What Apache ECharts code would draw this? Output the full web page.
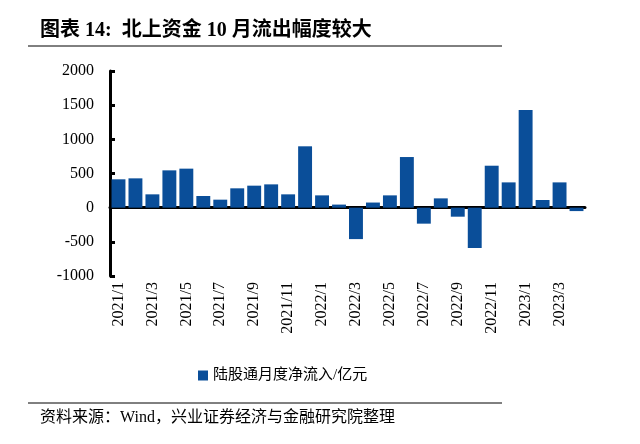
<!DOCTYPE html>
<html>
<head>
<meta charset="utf-8">
<script src="https://cdn.jsdelivr.net/npm/echarts@6/dist/echarts.min.js"></script>
<style>
html,body{margin:0;padding:0;background:#fff;}
#chart{width:640px;height:444px;}
</style>
</head>
<body>
<div id="chart"></div>
<script>
const categories = [
  '2021/1','2021/2','2021/3','2021/4','2021/5','2021/6','2021/7','2021/8','2021/9','2021/10','2021/11','2021/12',
  '2022/1','2022/2','2022/3','2022/4','2022/5','2022/6','2022/7','2022/8','2022/9','2022/10','2022/11','2022/12',
  '2023/1','2023/2','2023/3','2023/4'
];
const netInflow = [
  415, 429, 195, 546, 571, 171, 117, 283, 322, 341, 195, 898,
  180, 45, -460, 75, 180, 741, -234, 136, -132, -590, 614, 370,
  1428, 112, 370, -50
];
const yTicks = { min: -1000, max: 2000, interval: 500 };
const seriesName = '陆股通月度净流入/亿元';
const titleText = '图表 14:  北上资金 10 月流出幅度较大';
const sourceText = '资料来源：Wind，兴业证券经济与金融研究院整理';

const serif = '"Liberation Serif", "Noto Sans CJK SC", serif';
const chart = echarts.init(document.getElementById('chart'));
chart.setOption({
  backgroundColor: '#fff',
  animation: false,
  grid: { left: 110, right: 55, top: 71, bottom: 168 },
  legend: {
    data: [seriesName],
    left: 193, top: 363,
    itemWidth: 10, itemHeight: 10, itemGap: 2,
    icon: 'rect',
    textStyle: { fontFamily: serif, fontSize: 15, color: '#000' }
  },
  xAxis: [
    {
      type: 'category', data: categories, position: 'bottom',
      axisLine: { show: false, onZero: false },
      axisTick: { show: false },
      axisLabel: {
        interval: 1, rotate: 90, margin: 6,
        fontFamily: serif, fontSize: 16, color: '#000'
      }
    },
    {
      type: 'category', data: categories, position: 'bottom',
      axisLine: { show: true, onZero: true, lineStyle: { color: '#000', width: 3 } },
      axisTick: { show: false },
      axisLabel: { show: false }
    }
  ],
  yAxis: {
    type: 'value', min: yTicks.min, max: yTicks.max, interval: yTicks.interval,
    axisLine: { show: true, lineStyle: { color: '#000', width: 3 } },
    axisTick: { show: true, inside: true, length: 5, lineStyle: { color: '#000', width: 3 } },
    splitLine: { show: false },
    axisLabel: { margin: 16, fontFamily: serif, fontSize: 16, color: '#000', formatter: v => String(v) }
  },
  series: [{
    name: seriesName, type: 'bar', data: netInflow,
    xAxisIndex: 0,
    barCategoryGap: '18%',
    itemStyle: { color: '#0a4e99' }
  }],
  graphic: [
    { type: 'text', left: 40, top: 21, style: { text: titleText, font: 'bold 20px "Liberation Serif", "Noto Sans CJK SC", serif', fill: '#000' } },
    { type: 'line', shape: { x1: 28, y1: 46, x2: 502, y2: 46 }, style: { stroke: '#000', lineWidth: 1 } },
    { type: 'line', shape: { x1: 28, y1: 403, x2: 502, y2: 403 }, style: { stroke: '#000', lineWidth: 1 } },
    { type: 'text', left: 40, top: 410, style: { text: sourceText, font: '16px "Liberation Serif", "Noto Sans CJK SC", serif', fill: '#000' } }
  ]
});
</script>
</body>
</html>
